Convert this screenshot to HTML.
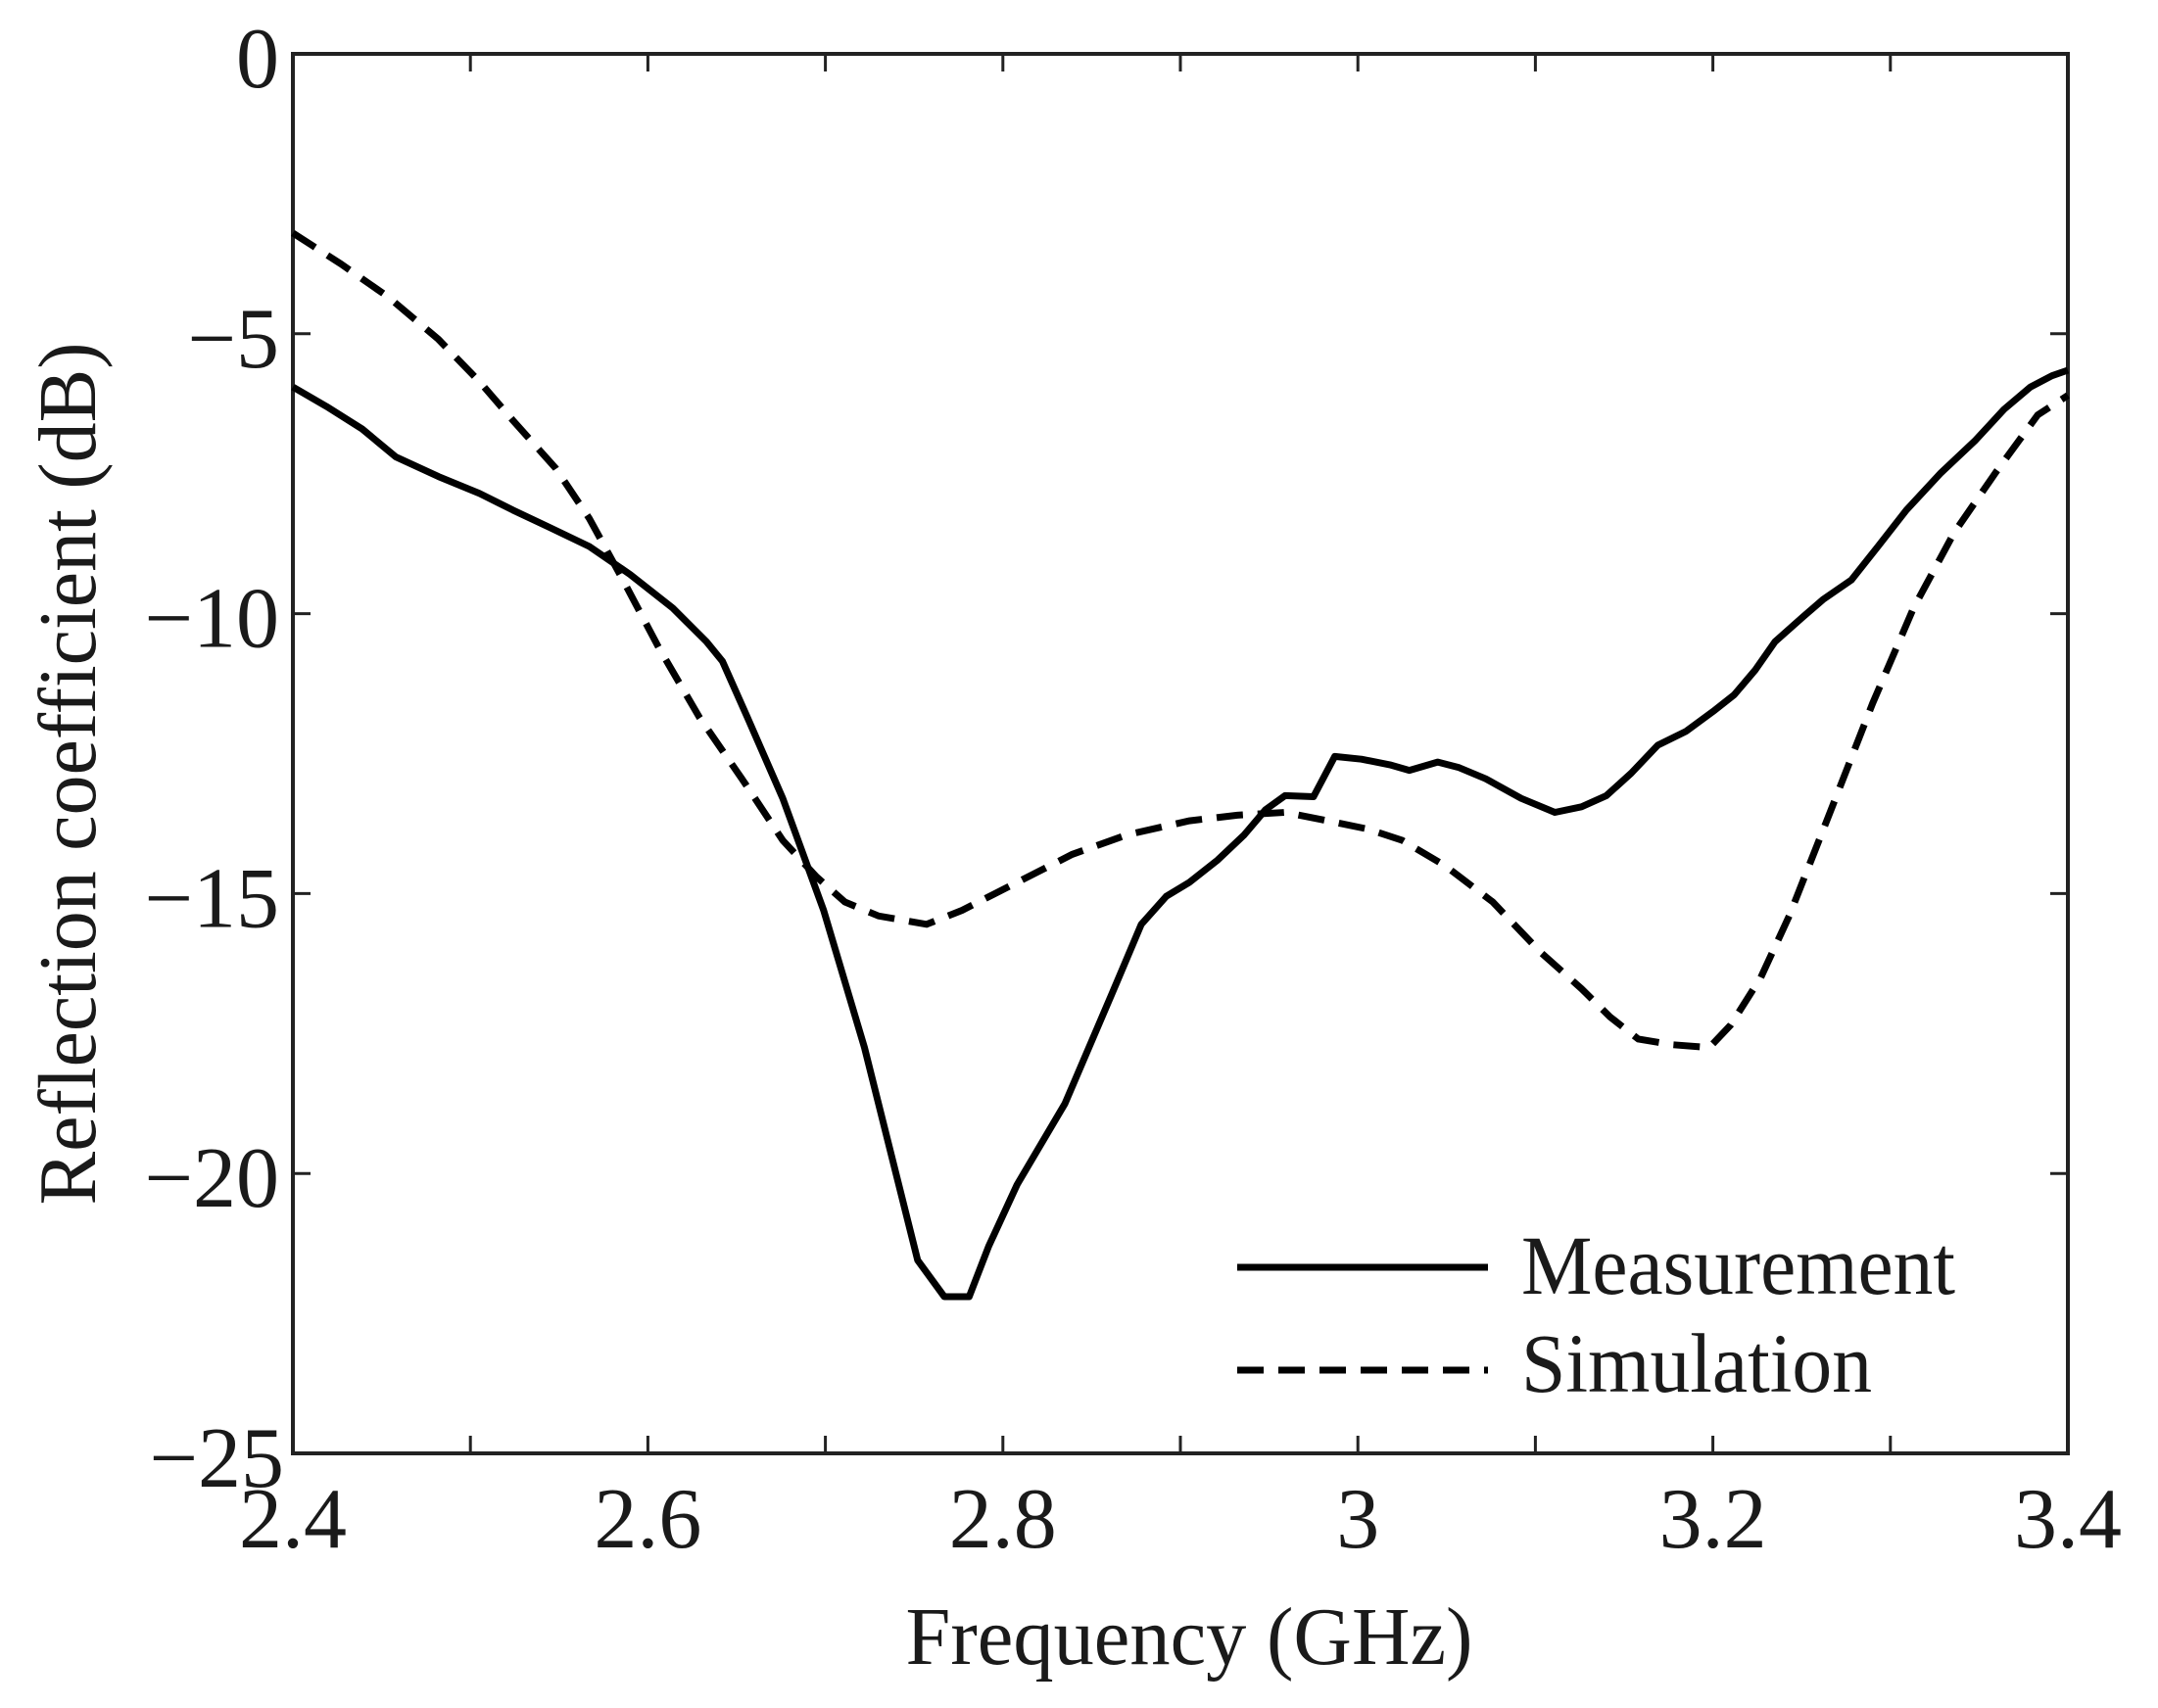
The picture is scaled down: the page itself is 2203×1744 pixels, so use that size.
<!DOCTYPE html>
<html><head><meta charset="utf-8"><style>
html,body{margin:0;padding:0;background:#fff;}
svg{display:block;}
text{font-family:"Liberation Serif","Times New Roman",serif;fill:#1a1a1a;}
</style></head><body>
<svg id="s" width="2203" height="1744" viewBox="0 0 2203 1744" xmlns="http://www.w3.org/2000/svg">
<g id="ticks" stroke="#222" stroke-width="3" fill="none"></g>
<rect x="299" y="55" width="1812" height="1429" fill="none" stroke="#222" stroke-width="4"/>
<g id="lab" font-size="88"></g>
<path id="meas" fill="none" stroke="#000" stroke-width="7" stroke-linejoin="round"/>
<path id="sim" fill="none" stroke="#000" stroke-width="7" stroke-dasharray="27,15"/>
<text x="1214" y="1699" font-size="84" text-anchor="middle" textLength="579" lengthAdjust="spacingAndGlyphs">Frequency (GHz)</text>
<text transform="translate(97,790) rotate(-90)" font-size="84" text-anchor="middle" textLength="881" lengthAdjust="spacingAndGlyphs">Reflection coefficient (dB)</text>
<line x1="1263" y1="1294" x2="1519" y2="1294" stroke="#000" stroke-width="7"/>
<line x1="1263" y1="1399" x2="1519" y2="1399" stroke="#000" stroke-width="7" stroke-dasharray="27,15"/>
<text x="1553" y="1321" font-size="86" textLength="443" lengthAdjust="spacingAndGlyphs">Measurement</text>
<text x="1553" y="1421" font-size="86" textLength="358" lengthAdjust="spacingAndGlyphs">Simulation</text>
</svg>
<script>
var X=function(f){return 299+(f-2.4)*1812;},Y=function(d){return 55-d*57.16;};
var ns="http://www.w3.org/2000/svg";
var t=document.getElementById('ticks'),l=document.getElementById('lab');
function ln(a,b,c,d){var e=document.createElementNS(ns,'line');e.setAttribute('x1',a);e.setAttribute('y1',b);e.setAttribute('x2',c);e.setAttribute('y2',d);t.appendChild(e);}
function tx(x,y,s,anc){var e=document.createElementNS(ns,'text');e.setAttribute('x',x);e.setAttribute('y',y);e.setAttribute('text-anchor',anc);e.textContent=s;l.appendChild(e);}
for(var i=0;i<=10;i++){var x=X(2.4+i*0.1);ln(x,1484,x,1466);ln(x,55,x,73);}
for(var i=0;i<=5;i++){var y=Y(-5*i);ln(299,y,317,y);ln(2111,y,2093,y);tx(i==5?290:285,y+34,i==0?'0':'\u2212'+(5*i),'end');}
var xl=['2.4','2.6','2.8','3','3.2','3.4'];
for(var i=0;i<6;i++){tx(X(2.4+i*0.2),1580,xl[i],'middle');}
var m=[[2.4,-5.95],[2.419,-6.3],[2.439,-6.7],[2.458,-7.2],[2.482,-7.55],[2.505,-7.85],[2.524,-8.15],[2.544,-8.45],[2.567,-8.8],[2.59,-9.3],[2.614,-9.9],[2.633,-10.5],[2.642,-10.85],[2.656,-11.85],[2.676,-13.3],[2.699,-15.3],[2.722,-17.75],[2.752,-21.55],[2.767,-22.2],[2.781,-22.2],[2.792,-21.3],[2.808,-20.2],[2.835,-18.75],[2.862,-16.75],[2.878,-15.55],[2.892,-15.05],[2.905,-14.8],[2.921,-14.4],[2.936,-13.95],[2.948,-13.5],[2.959,-13.25],[2.975,-13.27],[2.987,-12.55],[3.002,-12.6],[3.018,-12.7],[3.029,-12.8],[3.045,-12.65],[3.057,-12.75],[3.072,-12.95],[3.092,-13.3],[3.111,-13.55],[3.126,-13.45],[3.14,-13.25],[3.154,-12.85],[3.169,-12.35],[3.185,-12.1],[3.2,-11.75],[3.212,-11.45],[3.224,-11.0],[3.235,-10.5],[3.251,-10.05],[3.262,-9.75],[3.278,-9.4],[3.293,-8.8],[3.309,-8.15],[3.328,-7.5],[3.348,-6.9],[3.364,-6.35],[3.379,-5.95],[3.391,-5.75],[3.4,-5.65]];
var s=[[2.4,-3.2],[2.427,-3.75],[2.454,-4.35],[2.482,-5.1],[2.505,-5.85],[2.524,-6.55],[2.548,-7.4],[2.567,-8.3],[2.586,-9.4],[2.606,-10.6],[2.629,-11.85],[2.653,-12.95],[2.676,-14.05],[2.695,-14.7],[2.711,-15.15],[2.73,-15.4],[2.757,-15.55],[2.777,-15.3],[2.808,-14.8],[2.839,-14.3],[2.87,-13.95],[2.905,-13.7],[2.932,-13.6],[2.959,-13.55],[2.983,-13.7],[3.006,-13.85],[3.025,-14.05],[3.049,-14.5],[3.076,-15.15],[3.103,-16.05],[3.126,-16.7],[3.142,-17.2],[3.158,-17.6],[3.177,-17.7],[3.198,-17.75],[3.21,-17.35],[3.227,-16.5],[3.243,-15.4],[3.266,-13.55],[3.29,-11.6],[3.313,-9.9],[3.336,-8.55],[3.36,-7.45],[3.383,-6.45],[3.4,-6.1]];
function p(a){return a.map(function(q,i){return (i?'L':'M')+X(q[0]).toFixed(1)+','+Y(q[1]).toFixed(1);}).join(' ');}
document.getElementById('meas').setAttribute('d',p(m));
document.getElementById('sim').setAttribute('d',p(s));
</script>
</body></html>
